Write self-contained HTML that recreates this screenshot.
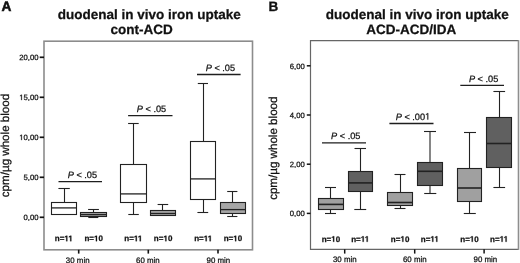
<!DOCTYPE html>
<html><head><meta charset="utf-8"><style>
tspan.one{fill-opacity:0;stroke-opacity:0;}
html,body{margin:0;padding:0;background:#fff;width:520px;height:263px;overflow:hidden;}
body{position:relative;font-family:"Liberation Sans", sans-serif;}
</style></head><body>
<svg width="520" height="263" viewBox="0 0 520 263" style="position:absolute;left:0;top:0;will-change:transform;filter:blur(0.25px)">
<g font-family='"Liberation Sans", sans-serif' text-rendering="geometricPrecision" stroke="#111" stroke-width="0.25">
<text x="1.5" y="10.9" font-size="13.7" font-weight="bold" fill="#111" stroke-width="0.5">A</text>
<text x="268.4" y="10.9" font-size="13.5" font-weight="bold" fill="#111" stroke-width="0.3">B</text>
<text x="149.2" y="18.6" font-size="13.5" font-weight="bold" text-anchor="middle" fill="#111">duodenal in vivo iron uptake</text>
<text x="141.55" y="33.6" font-size="13.5" font-weight="bold" text-anchor="middle" fill="#111">cont-ACD</text>
<text x="417.3" y="18.6" font-size="13.5" font-weight="bold" text-anchor="middle" fill="#111">duodenal in vivo iron uptake</text>
<text x="411.3" y="33.6" font-size="13.5" font-weight="bold" text-anchor="middle" fill="#111">ACD-ACD/IDA</text>
<text transform="translate(8.6,145.5) rotate(-90)" font-size="11.6" text-anchor="middle" fill="#111">cpm/µg whole blood</text>
<text transform="translate(277.2,148.2) rotate(-90)" font-size="11.6" text-anchor="middle" fill="#111">cpm/µg whole blood</text>
<rect x="44" y="41.2" width="208.5" height="208.6" fill="none" stroke="#8c8c8c" stroke-width="1.6"/>
<path d="M518.5 40.7 H310.5 V249.3 H518.5" fill="none" stroke="#666" stroke-width="1.2"/>
<line x1="518.5" y1="40.1" x2="518.5" y2="249.9" stroke="#8e8e8e" stroke-width="1.6"/>
<line x1="39.7" y1="57.3" x2="44" y2="57.3" stroke="#111" stroke-width="1.7"/>
<text x="38.5" y="60.1" font-size="7.7" text-anchor="end" fill="#111">20,00</text>
<line x1="39.7" y1="97.3" x2="44" y2="97.3" stroke="#111" stroke-width="1.7"/>
<text x="38.5" y="100.1" font-size="7.7" text-anchor="end" fill="#111"><tspan class="one">1</tspan>5,00</text>
<line x1="39.7" y1="137.3" x2="44" y2="137.3" stroke="#111" stroke-width="1.7"/>
<text x="38.5" y="140.1" font-size="7.7" text-anchor="end" fill="#111"><tspan class="one">1</tspan>0,00</text>
<line x1="39.7" y1="177.3" x2="44" y2="177.3" stroke="#111" stroke-width="1.7"/>
<text x="38.5" y="180.1" font-size="7.7" text-anchor="end" fill="#111">5,00</text>
<line x1="39.7" y1="217.3" x2="44" y2="217.3" stroke="#111" stroke-width="1.7"/>
<text x="38.5" y="220.1" font-size="7.7" text-anchor="end" fill="#111">0,00</text>
<line x1="306.8" y1="65.8" x2="310.5" y2="65.8" stroke="#111" stroke-width="1.5"/>
<text x="304.8" y="68.6" font-size="7.7" text-anchor="end" fill="#111">6,00</text>
<line x1="306.8" y1="115.0" x2="310.5" y2="115.0" stroke="#111" stroke-width="1.5"/>
<text x="304.8" y="117.8" font-size="7.7" text-anchor="end" fill="#111">4,00</text>
<line x1="306.8" y1="164.2" x2="310.5" y2="164.2" stroke="#111" stroke-width="1.5"/>
<text x="304.8" y="167.0" font-size="7.7" text-anchor="end" fill="#111">2,00</text>
<line x1="306.8" y1="213.4" x2="310.5" y2="213.4" stroke="#111" stroke-width="1.5"/>
<text x="304.8" y="216.2" font-size="7.7" text-anchor="end" fill="#111">0,00</text>
<line x1="78.7" y1="249.8" x2="78.7" y2="253.6" stroke="#111" stroke-width="1.6"/>
<text x="77.7" y="262.5" font-size="7.9" text-anchor="middle" fill="#111">30 min</text>
<line x1="148.3" y1="249.8" x2="148.3" y2="253.6" stroke="#111" stroke-width="1.6"/>
<text x="147.9" y="262.5" font-size="7.9" text-anchor="middle" fill="#111">60 min</text>
<line x1="218.0" y1="249.8" x2="218.0" y2="253.6" stroke="#111" stroke-width="1.6"/>
<text x="218.35" y="262.5" font-size="7.9" text-anchor="middle" fill="#111">90 min</text>
<line x1="344.7" y1="249.3" x2="344.7" y2="253.6" stroke="#111" stroke-width="1.5"/>
<text x="344.8" y="262.1" font-size="7.9" text-anchor="middle" fill="#111">30 min</text>
<line x1="414.7" y1="249.3" x2="414.7" y2="253.6" stroke="#111" stroke-width="1.5"/>
<text x="414.8" y="262.1" font-size="7.9" text-anchor="middle" fill="#111">60 min</text>
<line x1="484.1" y1="249.3" x2="484.1" y2="253.6" stroke="#111" stroke-width="1.5"/>
<text x="485.4" y="262.1" font-size="7.9" text-anchor="middle" fill="#111">90 min</text>
<line x1="64.5" y1="188.5" x2="64.5" y2="202.5" stroke="#222" stroke-width="1.1"/>
<line x1="58.4" y1="188.5" x2="69.8" y2="188.5" stroke="#222" stroke-width="1.1"/>
<rect x="51.5" y="202.5" width="25.00" height="12.00" fill="#fff" stroke="#222" stroke-width="1.1"/>
<line x1="51.5" y1="207.9" x2="76.5" y2="207.9" stroke="#222" stroke-width="1.3"/>
<line x1="93.5" y1="209.5" x2="93.5" y2="212.5" stroke="#222" stroke-width="1.1"/>
<line x1="88.1" y1="209.5" x2="98.9" y2="209.5" stroke="#222" stroke-width="1.1"/>
<line x1="93.5" y1="216.5" x2="93.5" y2="217.5" stroke="#222" stroke-width="1.1"/>
<line x1="88.3" y1="217.5" x2="98.3" y2="217.5" stroke="#222" stroke-width="1.1"/>
<rect x="80.5" y="212.5" width="26.00" height="4.00" fill="#a6a6a6" stroke="#222" stroke-width="1.1"/>
<line x1="80.5" y1="214.6" x2="106.5" y2="214.6" stroke="#222" stroke-width="1.3"/>
<line x1="133.5" y1="123.5" x2="133.5" y2="164.5" stroke="#222" stroke-width="1.1"/>
<line x1="128.1" y1="123.5" x2="138.7" y2="123.5" stroke="#222" stroke-width="1.1"/>
<line x1="133.5" y1="202.5" x2="133.5" y2="214.5" stroke="#222" stroke-width="1.1"/>
<line x1="128.3" y1="214.5" x2="138.8" y2="214.5" stroke="#222" stroke-width="1.1"/>
<rect x="120.5" y="164.5" width="26.00" height="38.00" fill="#fff" stroke="#222" stroke-width="1.1"/>
<line x1="120.5" y1="193.9" x2="146.5" y2="193.9" stroke="#222" stroke-width="1.3"/>
<line x1="162.5" y1="204.5" x2="162.5" y2="210.5" stroke="#222" stroke-width="1.1"/>
<line x1="157.6" y1="204.5" x2="168.2" y2="204.5" stroke="#222" stroke-width="1.1"/>
<rect x="150.5" y="210.5" width="25.00" height="5.00" fill="#a6a6a6" stroke="#222" stroke-width="1.1"/>
<line x1="150.5" y1="213.5" x2="175.5" y2="213.5" stroke="#222" stroke-width="1.3"/>
<line x1="203.5" y1="83.5" x2="203.5" y2="141.5" stroke="#222" stroke-width="1.1"/>
<line x1="197.8" y1="83.5" x2="208.0" y2="83.5" stroke="#222" stroke-width="1.1"/>
<line x1="203.5" y1="199.5" x2="203.5" y2="212.5" stroke="#222" stroke-width="1.1"/>
<line x1="197.4" y1="212.5" x2="208.2" y2="212.5" stroke="#222" stroke-width="1.1"/>
<rect x="190.5" y="141.5" width="25.00" height="58.00" fill="#fff" stroke="#222" stroke-width="1.1"/>
<line x1="190.5" y1="178.9" x2="215.5" y2="178.9" stroke="#222" stroke-width="1.3"/>
<line x1="232.5" y1="191.5" x2="232.5" y2="202.5" stroke="#222" stroke-width="1.1"/>
<line x1="227.2" y1="191.5" x2="237.4" y2="191.5" stroke="#222" stroke-width="1.1"/>
<line x1="232.5" y1="213.5" x2="232.5" y2="216.5" stroke="#222" stroke-width="1.1"/>
<line x1="227.2" y1="216.5" x2="237.4" y2="216.5" stroke="#222" stroke-width="1.1"/>
<rect x="220.5" y="202.5" width="25.00" height="11.00" fill="#a6a6a6" stroke="#222" stroke-width="1.1"/>
<line x1="220.5" y1="209.6" x2="245.5" y2="209.6" stroke="#222" stroke-width="1.3"/>
<line x1="330.5" y1="187.5" x2="330.5" y2="198.5" stroke="#222" stroke-width="1.1"/>
<line x1="325.0" y1="187.5" x2="336.0" y2="187.5" stroke="#222" stroke-width="1.1"/>
<line x1="330.5" y1="209.5" x2="330.5" y2="213.5" stroke="#222" stroke-width="1.1"/>
<line x1="325.0" y1="213.5" x2="336.0" y2="213.5" stroke="#222" stroke-width="1.1"/>
<rect x="318.5" y="198.5" width="25.00" height="11.00" fill="#a0a0a0" stroke="#222" stroke-width="1.1"/>
<line x1="318.5" y1="204.4" x2="343.5" y2="204.4" stroke="#222" stroke-width="1.6"/>
<line x1="360.5" y1="148.5" x2="360.5" y2="171.5" stroke="#222" stroke-width="1.1"/>
<line x1="354.5" y1="148.5" x2="366.0" y2="148.5" stroke="#222" stroke-width="1.1"/>
<line x1="360.5" y1="191.5" x2="360.5" y2="209.5" stroke="#222" stroke-width="1.1"/>
<line x1="354.3" y1="209.5" x2="366.2" y2="209.5" stroke="#222" stroke-width="1.1"/>
<rect x="348.5" y="171.5" width="24.00" height="20.00" fill="#606060" stroke="#222" stroke-width="1.1"/>
<line x1="348.5" y1="182.9" x2="372.5" y2="182.9" stroke="#222" stroke-width="1.6"/>
<line x1="400.5" y1="174.5" x2="400.5" y2="192.5" stroke="#222" stroke-width="1.1"/>
<line x1="394.5" y1="174.5" x2="405.5" y2="174.5" stroke="#222" stroke-width="1.1"/>
<line x1="400.5" y1="205.5" x2="400.5" y2="208.5" stroke="#222" stroke-width="1.1"/>
<line x1="394.5" y1="208.5" x2="405.5" y2="208.5" stroke="#222" stroke-width="1.1"/>
<rect x="387.5" y="192.5" width="25.00" height="13.00" fill="#a0a0a0" stroke="#222" stroke-width="1.1"/>
<line x1="387.5" y1="202.5" x2="412.5" y2="202.5" stroke="#222" stroke-width="1.6"/>
<line x1="430.0" y1="131.5" x2="430.0" y2="162.5" stroke="#222" stroke-width="1.1"/>
<line x1="424.0" y1="131.5" x2="436.0" y2="131.5" stroke="#222" stroke-width="1.1"/>
<line x1="430.0" y1="185.5" x2="430.0" y2="193.5" stroke="#222" stroke-width="1.1"/>
<line x1="424.2" y1="193.5" x2="436.3" y2="193.5" stroke="#222" stroke-width="1.1"/>
<rect x="417.5" y="162.5" width="25.00" height="23.00" fill="#606060" stroke="#222" stroke-width="1.1"/>
<line x1="417.5" y1="171.3" x2="442.5" y2="171.3" stroke="#222" stroke-width="1.6"/>
<line x1="469.5" y1="132.5" x2="469.5" y2="168.5" stroke="#222" stroke-width="1.1"/>
<line x1="464.0" y1="132.5" x2="476.0" y2="132.5" stroke="#222" stroke-width="1.1"/>
<line x1="469.5" y1="201.5" x2="469.5" y2="213.5" stroke="#222" stroke-width="1.1"/>
<line x1="463.8" y1="213.5" x2="475.8" y2="213.5" stroke="#222" stroke-width="1.1"/>
<rect x="457.5" y="168.5" width="24.00" height="33.00" fill="#a0a0a0" stroke="#222" stroke-width="1.1"/>
<line x1="457.5" y1="188.0" x2="481.5" y2="188.0" stroke="#222" stroke-width="1.6"/>
<line x1="499.5" y1="91.5" x2="499.5" y2="117.5" stroke="#222" stroke-width="1.1"/>
<line x1="493.4" y1="91.5" x2="505.1" y2="91.5" stroke="#222" stroke-width="1.1"/>
<line x1="499.5" y1="167.5" x2="499.5" y2="187.5" stroke="#222" stroke-width="1.1"/>
<line x1="493.4" y1="187.5" x2="505.1" y2="187.5" stroke="#222" stroke-width="1.1"/>
<rect x="486.5" y="117.5" width="25.00" height="50.00" fill="#606060" stroke="#222" stroke-width="1.1"/>
<line x1="486.5" y1="143.5" x2="511.5" y2="143.5" stroke="#222" stroke-width="1.6"/>
<line x1="58.5" y1="181.7" x2="102.0" y2="181.7" stroke="#1e1e1e" stroke-width="1.3"/>
<text x="67.7" y="178.0" font-size="9.2" fill="#111"><tspan font-style="italic">P</tspan> &lt; .05</text>
<line x1="128.1" y1="115.7" x2="172.5" y2="115.7" stroke="#1e1e1e" stroke-width="1.3"/>
<text x="136.79999999999998" y="111.8" font-size="9.2" fill="#111"><tspan font-style="italic">P</tspan> &lt; .05</text>
<line x1="197.0" y1="74.5" x2="240.6" y2="74.5" stroke="#1e1e1e" stroke-width="1.3"/>
<text x="205.7" y="70.6" font-size="9.2" fill="#111"><tspan font-style="italic">P</tspan> &lt; .05</text>
<line x1="322.0" y1="142.8" x2="366.0" y2="142.8" stroke="#1e1e1e" stroke-width="1.3"/>
<text x="331.09999999999997" y="138.6" font-size="9.2" fill="#111"><tspan font-style="italic">P</tspan> &lt; .05</text>
<line x1="389.4" y1="123.5" x2="433.5" y2="123.5" stroke="#1e1e1e" stroke-width="1.3"/>
<text x="395.7" y="119.6" font-size="9.2" fill="#111"><tspan font-style="italic">P</tspan> &lt; .00<tspan class="one">1</tspan></text>
<line x1="460.3" y1="85.4" x2="504.0" y2="85.4" stroke="#1e1e1e" stroke-width="1.3"/>
<text x="468.9" y="81.8" font-size="9.2" fill="#111"><tspan font-style="italic">P</tspan> &lt; .05</text>
<text x="63.8" y="241.2" font-size="8" font-weight="bold" text-anchor="middle" fill="#111">n=<tspan class="one">1</tspan><tspan class="one">1</tspan></text>
<text x="93.7" y="241.2" font-size="8" font-weight="bold" text-anchor="middle" fill="#111">n=<tspan class="one">1</tspan>0</text>
<text x="133.3" y="241.2" font-size="8" font-weight="bold" text-anchor="middle" fill="#111">n=<tspan class="one">1</tspan><tspan class="one">1</tspan></text>
<text x="163.1" y="241.2" font-size="8" font-weight="bold" text-anchor="middle" fill="#111">n=<tspan class="one">1</tspan>0</text>
<text x="203.2" y="241.2" font-size="8" font-weight="bold" text-anchor="middle" fill="#111">n=<tspan class="one">1</tspan><tspan class="one">1</tspan></text>
<text x="232.9" y="241.2" font-size="8" font-weight="bold" text-anchor="middle" fill="#111">n=<tspan class="one">1</tspan>0</text>
<text x="330.9" y="241.8" font-size="8" font-weight="bold" text-anchor="middle" fill="#111">n=<tspan class="one">1</tspan>0</text>
<text x="360.2" y="241.8" font-size="8" font-weight="bold" text-anchor="middle" fill="#111">n=<tspan class="one">1</tspan><tspan class="one">1</tspan></text>
<text x="400.1" y="241.8" font-size="8" font-weight="bold" text-anchor="middle" fill="#111">n=<tspan class="one">1</tspan>0</text>
<text x="429.8" y="241.8" font-size="8" font-weight="bold" text-anchor="middle" fill="#111">n=<tspan class="one">1</tspan><tspan class="one">1</tspan></text>
<text x="469.5" y="241.8" font-size="8" font-weight="bold" text-anchor="middle" fill="#111">n=<tspan class="one">1</tspan>0</text>
<text x="499.1" y="241.8" font-size="8" font-weight="bold" text-anchor="middle" fill="#111">n=<tspan class="one">1</tspan><tspan class="one">1</tspan></text>
<path transform="translate(19.25,100.10) scale(0.003760,-0.003760)" d="M515 0L515 1237L197 1010L197 1180L530 1409L696 1409L696 0Z" fill="#111" stroke="#111" stroke-width="0.25" vector-effect="non-scaling-stroke"/>
<path transform="translate(19.25,140.10) scale(0.003760,-0.003760)" d="M515 0L515 1237L197 1010L197 1180L530 1409L696 1409L696 0Z" fill="#111" stroke="#111" stroke-width="0.25" vector-effect="non-scaling-stroke"/>
<path transform="translate(425.09,119.60) scale(0.004492,-0.004492)" d="M515 0L515 1237L197 1010L197 1180L530 1409L696 1409L696 0Z" fill="#111" stroke="#111" stroke-width="0.25" vector-effect="non-scaling-stroke"/>
<path transform="translate(64.35,241.20) scale(0.003906,-0.003906)" d="M478 0L478 1170L140 959L140 1180L493 1409L759 1409L759 0Z" fill="#111" stroke="#111" stroke-width="0.25" vector-effect="non-scaling-stroke"/>
<path transform="translate(68.36,241.20) scale(0.003906,-0.003906)" d="M478 0L478 1170L140 959L140 1180L493 1409L759 1409L759 0Z" fill="#111" stroke="#111" stroke-width="0.25" vector-effect="non-scaling-stroke"/>
<path transform="translate(94.03,241.20) scale(0.003906,-0.003906)" d="M478 0L478 1170L140 959L140 1180L493 1409L759 1409L759 0Z" fill="#111" stroke="#111" stroke-width="0.25" vector-effect="non-scaling-stroke"/>
<path transform="translate(133.85,241.20) scale(0.003906,-0.003906)" d="M478 0L478 1170L140 959L140 1180L493 1409L759 1409L759 0Z" fill="#111" stroke="#111" stroke-width="0.25" vector-effect="non-scaling-stroke"/>
<path transform="translate(137.86,241.20) scale(0.003906,-0.003906)" d="M478 0L478 1170L140 959L140 1180L493 1409L759 1409L759 0Z" fill="#111" stroke="#111" stroke-width="0.25" vector-effect="non-scaling-stroke"/>
<path transform="translate(163.43,241.20) scale(0.003906,-0.003906)" d="M478 0L478 1170L140 959L140 1180L493 1409L759 1409L759 0Z" fill="#111" stroke="#111" stroke-width="0.25" vector-effect="non-scaling-stroke"/>
<path transform="translate(203.75,241.20) scale(0.003906,-0.003906)" d="M478 0L478 1170L140 959L140 1180L493 1409L759 1409L759 0Z" fill="#111" stroke="#111" stroke-width="0.25" vector-effect="non-scaling-stroke"/>
<path transform="translate(207.76,241.20) scale(0.003906,-0.003906)" d="M478 0L478 1170L140 959L140 1180L493 1409L759 1409L759 0Z" fill="#111" stroke="#111" stroke-width="0.25" vector-effect="non-scaling-stroke"/>
<path transform="translate(233.23,241.20) scale(0.003906,-0.003906)" d="M478 0L478 1170L140 959L140 1180L493 1409L759 1409L759 0Z" fill="#111" stroke="#111" stroke-width="0.25" vector-effect="non-scaling-stroke"/>
<path transform="translate(331.23,241.80) scale(0.003906,-0.003906)" d="M478 0L478 1170L140 959L140 1180L493 1409L759 1409L759 0Z" fill="#111" stroke="#111" stroke-width="0.25" vector-effect="non-scaling-stroke"/>
<path transform="translate(360.75,241.80) scale(0.003906,-0.003906)" d="M478 0L478 1170L140 959L140 1180L493 1409L759 1409L759 0Z" fill="#111" stroke="#111" stroke-width="0.25" vector-effect="non-scaling-stroke"/>
<path transform="translate(364.76,241.80) scale(0.003906,-0.003906)" d="M478 0L478 1170L140 959L140 1180L493 1409L759 1409L759 0Z" fill="#111" stroke="#111" stroke-width="0.25" vector-effect="non-scaling-stroke"/>
<path transform="translate(400.43,241.80) scale(0.003906,-0.003906)" d="M478 0L478 1170L140 959L140 1180L493 1409L759 1409L759 0Z" fill="#111" stroke="#111" stroke-width="0.25" vector-effect="non-scaling-stroke"/>
<path transform="translate(430.35,241.80) scale(0.003906,-0.003906)" d="M478 0L478 1170L140 959L140 1180L493 1409L759 1409L759 0Z" fill="#111" stroke="#111" stroke-width="0.25" vector-effect="non-scaling-stroke"/>
<path transform="translate(434.36,241.80) scale(0.003906,-0.003906)" d="M478 0L478 1170L140 959L140 1180L493 1409L759 1409L759 0Z" fill="#111" stroke="#111" stroke-width="0.25" vector-effect="non-scaling-stroke"/>
<path transform="translate(469.83,241.80) scale(0.003906,-0.003906)" d="M478 0L478 1170L140 959L140 1180L493 1409L759 1409L759 0Z" fill="#111" stroke="#111" stroke-width="0.25" vector-effect="non-scaling-stroke"/>
<path transform="translate(499.65,241.80) scale(0.003906,-0.003906)" d="M478 0L478 1170L140 959L140 1180L493 1409L759 1409L759 0Z" fill="#111" stroke="#111" stroke-width="0.25" vector-effect="non-scaling-stroke"/>
<path transform="translate(503.66,241.80) scale(0.003906,-0.003906)" d="M478 0L478 1170L140 959L140 1180L493 1409L759 1409L759 0Z" fill="#111" stroke="#111" stroke-width="0.25" vector-effect="non-scaling-stroke"/>
</g></svg>
</body></html>
